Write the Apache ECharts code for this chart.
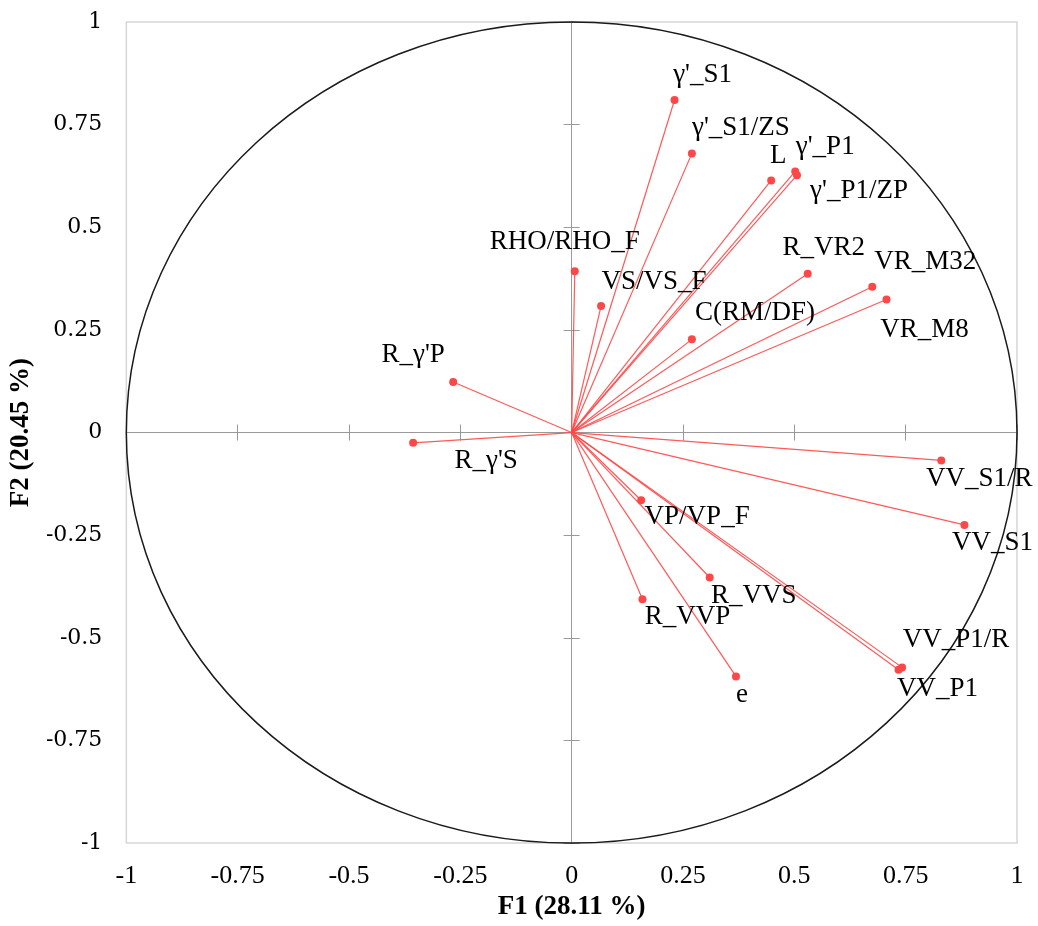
<!DOCTYPE html>
<html>
<head>
<meta charset="utf-8">
<script src="https://cdn.jsdelivr.net/npm/echarts@6/dist/echarts.min.js"></script>
<style>
  html, body { margin: 0; padding: 0; background: #fff; }
  #chart { width: 1038px; height: 926px; }
</style>
</head>
<body>
<div id="chart"></div>
<script>
// variable names and their loadings on F1 / F2
const varNames = [
  "γ'_S1", "γ'_S1/ZS", "L", "γ'_P1", "γ'_P1/ZP",
  "RHO/RHO_F", "VS/VS_F", "R_VR2", "VR_M32", "VR_M8", "C(RM/DF)",
  "R_γ'P", "R_γ'S",
  "VV_S1/R", "VV_S1", "VP/VP_F", "R_VVS", "R_VVP",
  "VV_P1/R", "VV_P1", "e"
];
const f1Values = [
  0.231, 0.270, 0.448, 0.502, 0.506,
  0.007, 0.066, 0.530, 0.675, 0.707, 0.270,
  -0.266, -0.356,
  0.830, 0.882, 0.156, 0.310, 0.159,
  0.742, 0.734, 0.369
];
const f2Values = [
  0.810, 0.680, 0.614, 0.636, 0.627,
  0.393, 0.308, 0.387, 0.355, 0.324, 0.227,
  0.123, -0.025,
  -0.068, -0.225, -0.165, -0.353, -0.406,
  -0.572, -0.578, -0.594
];
const axisTicks = [-1, -0.75, -0.5, -0.25, 0, 0.25, 0.5, 0.75, 1];
const circleRadius = 1;

// label placement (pixels from the dot to the label centre)
const labelOffsets = [
  [28, -25], [49, -25], [7, -25], [30, -25], [62, 16],
  [-10, -29], [53, -24], [16, -26], [53, -25], [38, 30], [63, -26],
  [-40, -27], [73, 18],
  [38, 18], [28, 18], [56, 17], [44, 18], [45, 18],
  [54, -27], [39, 19], [6, 18]
];

const serif = "'Liberation Serif', 'Times New Roman', serif";
const red = "#ff4747";
const zeroLineColor = "#9a9a9a";
const dotSize = 8;

const chart = echarts.init(document.getElementById("chart"));

const points = varNames.map((name, i) => ({
  name: name,
  value: [f1Values[i], f2Values[i]],
  label: {
    position: [dotSize / 2 + labelOffsets[i][0], dotSize / 2 + labelOffsets[i][1]],
  },
}));
const vectors = varNames.map((name, i) => ({
  coords: [[0, 0], [f1Values[i], f2Values[i]]],
}));

const valueAxis = {
  type: "value",
  min: axisTicks[0],
  max: axisTicks[axisTicks.length - 1],
  interval: 0.25,
  splitLine: { show: false },
};

const option = {
  backgroundColor: "#fff",
  animation: false,
  grid: {
    left: 126, right: 21, top: 22, bottom: 71,
    show: true, borderColor: "#d6d6d6", borderWidth: 1.5,
  },
  xAxis: [
    Object.assign({}, valueAxis, {
      position: "bottom",
      axisLine: { show: false, onZero: false },
      axisTick: { show: false },
      axisLabel: { color: "#000", fontFamily: serif, fontSize: 26, margin: 20 },
      name: "F1 (28.11 %)",
      nameLocation: "middle",
      nameGap: 44,
      nameTextStyle: { color: "#000", fontFamily: serif, fontSize: 27, fontWeight: "bold" },
    }),
    // zero line with ticks crossing it
    Object.assign({}, valueAxis, {
      position: "bottom",
      axisLine: { show: true, onZero: true, onZeroAxisIndex: 0, lineStyle: { color: zeroLineColor, width: 1 } },
      axisTick: { show: true, length: 8, lineStyle: { color: zeroLineColor } },
      axisLabel: { show: false },
    }),
    Object.assign({}, valueAxis, {
      position: "top",
      axisLine: { show: false, onZero: true, onZeroAxisIndex: 0 },
      axisTick: { show: true, length: 8, lineStyle: { color: zeroLineColor } },
      axisLabel: { show: false },
    }),
  ],
  yAxis: [
    Object.assign({}, valueAxis, {
      position: "left",
      axisLine: { show: false, onZero: false },
      axisTick: { show: false },
      axisLabel: { color: "#000", fontFamily: "'DejaVu Serif', serif", fontSize: 22, margin: 24 },
      name: "F2 (20.45 %)",
      nameLocation: "middle",
      nameGap: 90,
      nameTextStyle: { color: "#000", fontFamily: serif, fontSize: 27, fontWeight: "bold" },
    }),
    Object.assign({}, valueAxis, {
      position: "left",
      axisLine: { show: true, onZero: true, onZeroAxisIndex: 0, lineStyle: { color: zeroLineColor, width: 1 } },
      axisTick: { show: true, length: 8, lineStyle: { color: zeroLineColor } },
      axisLabel: { show: false },
    }),
    Object.assign({}, valueAxis, {
      position: "right",
      axisLine: { show: false, onZero: true, onZeroAxisIndex: 0 },
      axisTick: { show: true, length: 8, lineStyle: { color: zeroLineColor } },
      axisLabel: { show: false },
    }),
  ],
  series: [
    // correlation circle
    {
      type: "custom",
      xAxisIndex: 0,
      yAxisIndex: 0,
      silent: true,
      clip: false,
      data: [[0, 0, circleRadius]],
      renderItem: (params, api) => {
        const c = api.coord([api.value(0), api.value(1)]);
        const r = api.value(2);
        const px = api.coord([r, 0]);
        const py = api.coord([0, r]);
        return {
          type: "ellipse",
          shape: { cx: c[0], cy: c[1], rx: px[0] - c[0], ry: c[1] - py[1] },
          style: { fill: null, stroke: "#1a1a1a", lineWidth: 1.5 },
        };
      },
      z: 3,
    },
    // vectors from the origin
    {
      type: "lines",
      coordinateSystem: "cartesian2d",
      xAxisIndex: 0,
      yAxisIndex: 0,
      silent: true,
      lineStyle: { color: red, width: 1.2, opacity: 0.9, curveness: 0 },
      data: vectors,
      z: 4,
    },
    {
      type: "scatter",
      xAxisIndex: 0,
      yAxisIndex: 0,
      symbol: "circle",
      symbolSize: dotSize,
      itemStyle: { color: red, opacity: 1 },
      label: {
        show: true,
        formatter: "{b}",
        align: "center",
        verticalAlign: "middle",
        color: "#000",
        fontFamily: serif,
        fontSize: 27,
      },
      data: points,
      z: 5,
    },
  ],
};

chart.setOption(option);
</script>
</body>
</html>
